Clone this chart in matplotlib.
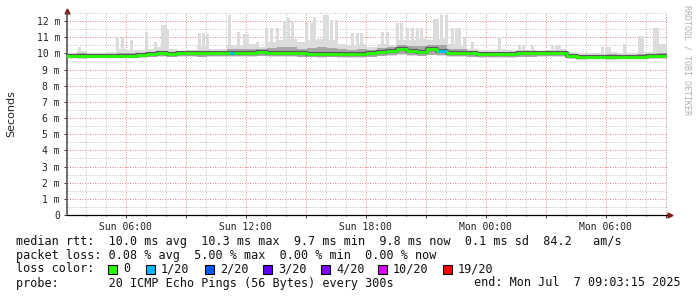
import matplotlib
matplotlib.use("Agg")
import matplotlib.pyplot as plt
from matplotlib.patches import Rectangle
import numpy as np

W, H = 697, 297

# time axis: hours since Sun 00:00, 30 min bins, start 03:03:15
t0 = 3 + 3.25 / 60
step = 0.5

median = [9.85, 9.85, 9.85, 9.85, 9.85, 9.85, 9.85, 9.9, 9.95, 10.0,
          9.95, 10.0, 10.0, 10.0, 10.0, 10.0, 10.05, 10.05, 10.05, 10.1,
          10.05, 10.05, 10.05, 10.0, 9.98, 9.98, 9.98, 9.95, 9.95, 9.95,
          10.0, 10.1, 10.15, 10.25, 10.15, 10.1, 10.25, 10.15, 10.05, 10.05,
          10.0, 9.95, 9.95, 9.95, 9.95, 10.0, 10.0, 10.0, 10.05, 10.05,
          9.85, 9.78, 9.8, 9.8, 9.78, 9.8, 9.8, 9.8, 9.83, 9.83]

smoke_lo = [9.7, 9.68, 9.7, 9.7, 9.7, 9.72, 9.72, 9.72, 9.75, 9.78,
            9.75, 9.78, 9.78, 9.75, 9.78, 9.78, 9.8, 9.78, 9.8, 9.82,
            9.8, 9.78, 9.8, 9.75, 9.75, 9.72, 9.75, 9.72, 9.7, 9.72,
            9.75, 9.82, 9.85, 9.9, 9.85, 9.82, 9.88, 9.85, 9.8, 9.78,
            9.75, 9.72, 9.72, 9.72, 9.72, 9.75, 9.75, 9.78, 9.8, 9.8,
            9.65, 9.62, 9.63, 9.63, 9.62, 9.63, 9.63, 9.63, 9.65, 9.65]

smoke_mid = [9.95, 10.0, 9.95, 9.95, 9.95, 10.0, 10.0, 10.05, 10.1, 10.15,
             10.1, 10.05, 10.1, 10.15, 10.15, 10.15, 10.25, 10.25, 10.3, 10.25,
             10.35, 10.4, 10.4, 10.3, 10.35, 10.4, 10.35, 10.25, 10.2, 10.25,
             10.2, 10.35, 10.4, 10.5, 10.45, 10.45, 10.5, 10.55, 10.3, 10.25,
             10.15, 10.1, 10.1, 10.1, 10.1, 10.1, 10.1, 10.1, 10.15, 10.15,
             9.95, 9.9, 9.9, 9.92, 9.95, 9.9, 9.9, 9.95, 9.95, 10.0]

smoke_hi = [10.05, 10.15, 10.05, 10.05, 10.1, 10.3, 10.2, 10.2, 10.3, 10.4,
            10.3, 10.15, 10.2, 10.5, 10.3, 10.25, 10.5, 10.5, 10.6, 10.4,
            10.7, 10.8, 10.9, 10.7, 10.8, 10.9, 10.8, 10.6, 10.5, 10.6,
            10.4, 10.6, 10.5, 10.8, 10.8, 10.9, 10.8, 10.9, 10.6, 10.5,
            10.3, 10.2, 10.2, 10.3, 10.2, 10.2, 10.2, 10.15, 10.2, 10.25,
            10.1, 10.0, 10.0, 10.05, 10.1, 10.05, 10.05, 10.1, 10.1, 10.6]

# single high pings (hours since Sun 00:00, ms)
spike_t = [3.70, 5.60, 5.85, 6.30, 7.05, 7.50, 7.85, 8.00, 8.10, 9.70,
           9.90, 10.10, 11.20, 11.65, 11.95, 12.10, 12.60, 13.05, 13.30, 13.60,
           13.95, 14.15, 14.35, 15.05, 15.30, 15.45, 15.95, 16.10, 16.30, 16.55,
           17.35, 17.60, 17.80, 18.85, 19.10, 19.60, 19.80, 20.10, 20.35, 20.60,
           20.80, 21.45, 21.60, 21.80, 22.05, 22.35, 22.55, 22.70, 22.95, 23.35,
           24.70, 25.70, 25.90, 26.35, 27.35, 27.55, 27.70, 29.85, 30.05, 30.20,
           30.95, 31.70, 31.85, 32.45, 32.60]
spike_top = [10.4, 11.0, 11.0, 10.8, 11.3, 10.7, 11.75, 11.75, 11.5, 11.25,
             11.25, 11.2, 12.37, 11.3, 11.2, 11.2, 10.7, 11.55, 11.55, 11.55,
             12.0, 12.2, 12.0, 11.9, 11.9, 12.25, 12.35, 12.35, 12.05, 12.05,
             11.25, 11.25, 11.25, 11.3, 11.3, 11.9, 11.9, 11.6, 11.6, 11.6,
             11.6, 12.1, 12.1, 12.35, 12.37, 11.55, 11.55, 11.55, 11.0, 10.7,
             11.0, 10.5, 10.5, 10.5, 10.5, 10.5, 10.5, 10.4, 10.4, 10.4,
             10.6, 11.1, 11.1, 11.55, 11.55]

# periods with 1/20 packet loss
loss_start = [11.20, 21.60]
loss_end = [11.40, 22.05]

tick_pos = [6, 12, 18, 24, 30]
tick_labels = ["Sun 06:00", "Sun 12:00", "Sun 18:00", "Mon 00:00", "Mon 06:00"]

loss_names = ["0", "1/20", "2/20", "3/20", "4/20", "10/20", "19/20"]
loss_colors = ["#26ff00", "#00b8ff", "#0059ff", "#5e00ff", "#7e00ff", "#dd00ff", "#ff0000"]

mono = "DejaVu Sans Mono"

def fx(px):
    return px / W

def fy(py):
    return 1 - py / H

fig = plt.figure(figsize=(W / 100, H / 100), dpi=100)
fig.patch.set_facecolor("white")
ax = fig.add_axes([fx(67), fy(215), 600 / W, 202 / H])

n = len(median)
edges = t0 + step * np.arange(n + 1)

def stepped(vals):
    return np.append(vals, vals[-1])

ax.fill_between(edges, stepped(smoke_lo), stepped(smoke_hi), step="post",
                color="#dcdcdc", lw=0, zorder=2)
ax.bar(spike_t, np.array(spike_top) - 9.9, bottom=9.9, width=0.15,
       color="#dcdcdc", lw=0, zorder=2)
ax.fill_between(edges, stepped(smoke_lo) + 0.05, stepped(smoke_mid), step="post",
                color="#a8a8a8", lw=0, zorder=3)
ax.step(edges, stepped(median), where="post", color="#5a5a5a", lw=3.0, zorder=4)
ax.step(edges, stepped(median), where="post", color="#26ff00", lw=2.0, zorder=5)

for s, e in zip(loss_start, loss_end):
    v = median[int((s - t0) / step)]
    ax.plot([s, e], [v, v], color="#00b8ff", lw=2.0, zorder=6, solid_capstyle="butt")

ax.set_xlim(t0, t0 + 30)
ax.set_ylim(0, 12.5)

ax.set_xticks(np.arange(6, 34, 3))
ax.set_xticklabels([tick_labels[tick_pos.index(v)] if v in tick_pos else ""
                    for v in range(6, 34, 3)])
ax.set_xticks(np.arange(4, 34, 1), minor=True)
ax.set_yticks(range(0, 13))
ax.set_yticklabels(["0"] + [f"{v} m" for v in range(1, 13)])
ax.set_yticks(np.arange(0.5, 12.6, 1), minor=True)

ax.grid(which="minor", color="#c4c4c4", linestyle=(0, (1, 1.5)), lw=0.72, zorder=0)
ax.grid(which="major", color="#e48c8c", linestyle=(0, (1, 1.5)), lw=0.72, zorder=1)
ax.set_axisbelow(True)

for lab in ax.get_xticklabels() + ax.get_yticklabels():
    lab.set_family(mono)
    lab.set_fontsize(7)
    lab.set_color("#222222")
ax.tick_params(which="major", length=2, width=0.7, pad=3, color="#333333")
ax.tick_params(which="minor", length=1, width=0.7, color="#333333")
ax.tick_params(axis="x", pad=3)

for sp in ["top", "right"]:
    ax.spines[sp].set_visible(False)
ax.spines["left"].set_color("#555555")
ax.spines["left"].set_linewidth(1.2)
ax.spines["bottom"].set_color("black")
ax.spines["bottom"].set_linewidth(0.9)

# axis arrows
ax.plot([0], [1.01], marker="^", color="#8b1a1a", ms=3.5, transform=ax.transAxes, clip_on=False)
ax.plot([1.005], [0], marker=">", color="#8b1a1a", ms=3.5, transform=ax.transAxes, clip_on=False)

fig.text(fx(11), fy(114), "Seconds", rotation=90, ha="center", va="center",
         fontsize=8, family="DejaVu Sans", color="#222222")
fig.text(fx(687), fy(5), "RRDTOOL / TOBI OETIKER", rotation=270, ha="center", va="top",
         fontsize=6, family=mono, color="#b0b0b0")

line1 = "median rtt:  10.0 ms avg  10.3 ms max  9.7 ms min  9.8 ms now  0.1 ms sd  84.2   am/s"
line2 = "packet loss: 0.08 % avg  5.00 % max  0.00 % min  0.00 % now"
line4 = "probe:       20 ICMP Echo Pings (56 Bytes) every 300s"
end_txt = "end: Mon Jul  7 09:03:15 2025"

txt = dict(family=mono, fontsize=8.5, va="center", color="#111111")
fig.text(fx(16), fy(241), line1, **txt)
fig.text(fx(16), fy(255), line2, **txt)
fig.text(fx(16), fy(269), "loss color:", **txt)
fig.text(fx(16), fy(283), line4, **txt)
fig.text(fx(681), fy(283), end_txt, ha="right", **txt)

box_x = [108, 146, 205, 263, 321, 378, 443]
for bx, name, col in zip(box_x, loss_names, loss_colors):
    fig.patches.append(Rectangle((fx(bx), fy(273.5)), 9 / W, 9 / H, transform=fig.transFigure,
                                 facecolor=col, edgecolor="black", lw=0.8))
    fig.text(fx(bx + 15), fy(269), name, **txt)

fig.savefig("out.png", dpi=100)
